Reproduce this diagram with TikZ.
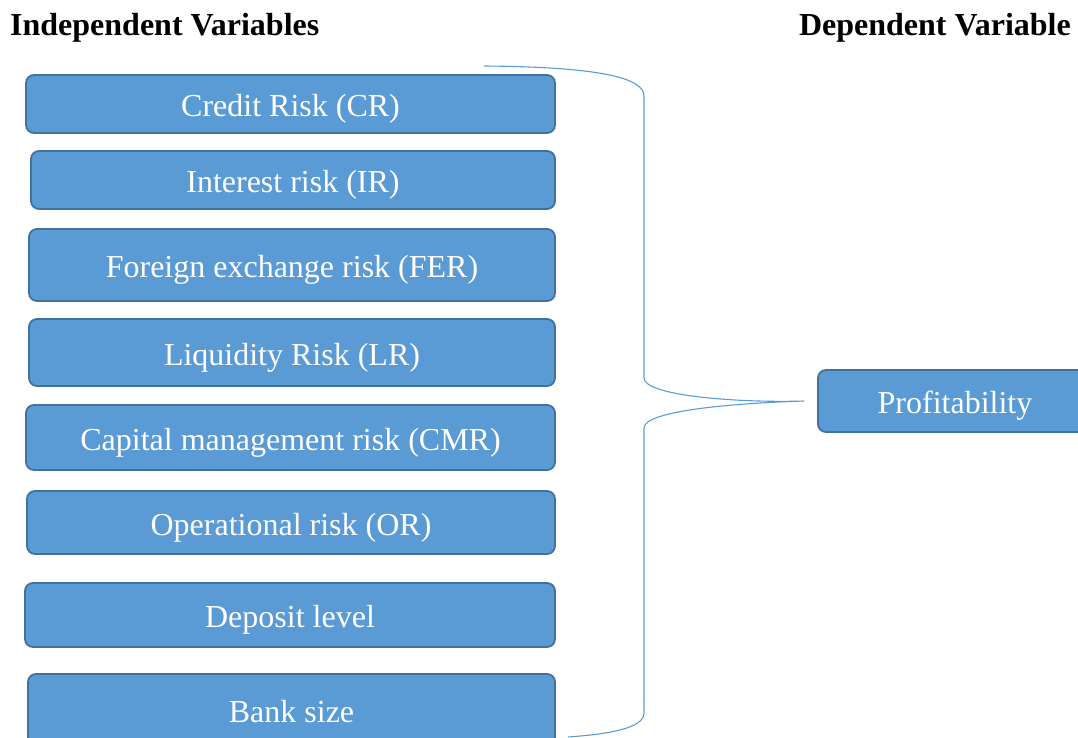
\documentclass[tikz,border=0pt]{standalone}
\usepackage{fontspec}
\setmainfont{Liberation Serif}
\usepackage{tikz}

\definecolor{boxfill}{HTML}{5B9BD5}
\definecolor{boxline}{HTML}{41719C}

\begin{document}
\begin{tikzpicture}[x=1pt, y=-1pt]
        \tikzset{boxes/.style={draw=boxline, fill=boxfill, line width=1.8pt, rounded corners=8pt,
                 text=white, font=\fontsize{32}{38}\selectfont, inner sep=0pt,
                 text height=25pt, text depth=0pt}}
        \tikzset{heads/.style={font=\fontsize{32}{38}\selectfont\bfseries, inner sep=0pt}}
        \useasboundingbox (0,0) rectangle (1078,737);
        \node [heads, anchor=base west] (iv) at (10,35)   {Independent Variables};
        \node [heads, anchor=base east] (dv) at (1071,35) {Dependent Variable};
        \node [boxes, minimum width=529pt, minimum height=58pt] (1) at (290.5,104)  {Credit Risk (CR)};
        \node [boxes, minimum width=524pt, minimum height=58pt] (2) at (293,180)    {Interest risk (IR)};
        \node [boxes, minimum width=526pt, minimum height=72pt] (3) at (292,265)    {Foreign exchange risk (FER)};
        \node [boxes, minimum width=526pt, minimum height=67pt] (4) at (292,352.5)  {Liquidity Risk (LR)};
        \node [boxes, minimum width=529pt, minimum height=65pt] (5) at (290.5,437.5) {Capital management risk (CMR)};
        \node [boxes, minimum width=528pt, minimum height=63pt] (6) at (291,522.5)  {Operational risk (OR)};
        \node [boxes, minimum width=530pt, minimum height=64pt] (7) at (290,615)    {Deposit level};
        \node [boxes, minimum width=527pt, minimum height=71pt] (8) at (291.5,709.5) {Bank size};
        \node [boxes, minimum width=274pt, minimum height=62pt] (p) at (955,401)    {Profitability};
        \coordinate (top) at (484,66);
        \coordinate (bot) at (568,737);
        \coordinate (tip) at ([xshift=-13pt]p.west);
        \draw [boxfill, line width=1.1pt] (top) .. controls (610,67) and (644,80) .. (644,96)
              -- (644,378) .. controls (644,396) and (740,403) .. (tip)
              .. controls (740,403) and (644,410) .. (644,428)
              -- (644,713) .. controls (644,728) and (610,734) .. (bot);
    \end{tikzpicture}
\end{document}
